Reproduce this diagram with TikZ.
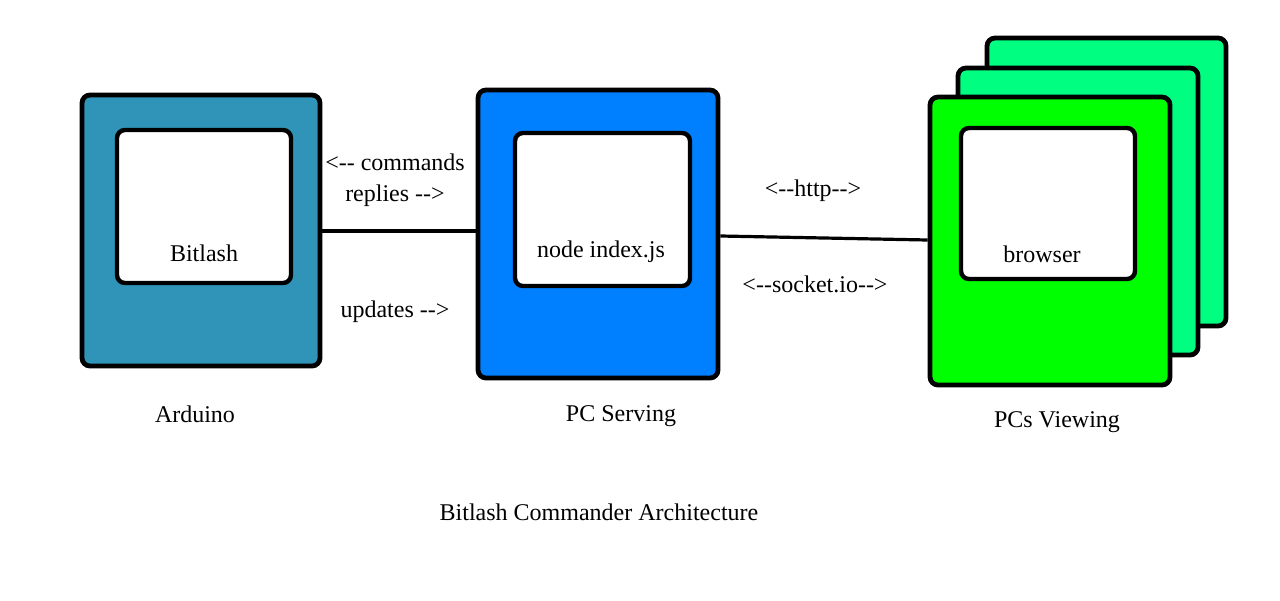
\documentclass[tikz,border=0pt]{standalone}
\usepackage{fontspec}
\setmainfont{Liberation Serif}
\usepackage{tikz}
\usetikzlibrary{positioning}

\definecolor{arduinoteal}{RGB}{47,148,184}
\definecolor{serverblue}{RGB}{0,128,255}
\definecolor{viewgreen}{RGB}{0,255,0}
\definecolor{backgreen}{RGB}{0,255,128}

\tikzset{
  outerbox/.style={rectangle, draw, line width=2.4pt, rounded corners=4pt, inner sep=0pt},
  screenbox/.style={rectangle, draw, fill=white, line width=2.2pt, rounded corners=4pt, inner sep=0pt},
  txt/.style={inner sep=1pt, font=\fontsize{12}{14}\selectfont},
  wire/.style={line width=2pt}
}

\begin{document}
\begin{tikzpicture}[x=0.5pt, y=-0.5pt]
\useasboundingbox (0,0) rectangle (1280,600);
\node[outerbox, fill=arduinoteal, minimum width=119pt, minimum height=135.5pt] (A) at (201,230.5) {};
\node[screenbox, minimum width=87pt, minimum height=76.5pt] (As) at (204,206.5) {};
\node[txt] (At) at (204,253) {Bitlash};
\node[outerbox, fill=serverblue, minimum width=120pt, minimum height=144pt] (P) at (598,234) {};
\node[screenbox, minimum width=87.5pt, minimum height=76.5pt] (Ps) at (602.5,209.5) {};
\node[txt] (Pt) at (601,252) {node index.js};
\node[outerbox, fill=backgreen, minimum width=119.5pt, minimum height=144pt] (B3) at (1106.5,182) {};
\node[outerbox, fill=backgreen, minimum width=120pt, minimum height=143.5pt] (B2) at (1078,211.5) {};
\node[outerbox, fill=viewgreen, minimum width=120pt, minimum height=144pt] (B1) at (1050,241) {};
\node[screenbox, minimum width=87pt, minimum height=75.5pt] (Bs) at (1048,203.5) {};
\node[txt] (Bt) at (1042,254) {browser};
\node[txt] (c) at (395,162) {<-{}- commands};
\node[txt] (r) at (395,196) {replies -{}->};
\node[txt] (u) at (395,312) {updates -{}->};
\node[txt] (h) at (813,191) {<-{}-http-{}->};
\node[txt] (s) at (815,284) {<-{}-socket.io-{}->};
\node[txt] (An) at (195,414) {Arduino};
\node[txt] (Pn) at (621,416) {PC Serving};
\node[txt] (Bn) at (1057,422) {PCs Viewing};
\node[txt] (T) at (599,512) {Bitlash Commander Architecture};
\draw[wire] (A.east) -- (A.east -| P.west);
\draw[wire, line width=1.6pt] ([yshift=-1pt]P.east) -- ([yshift=0.5pt]B1.west);
\end{tikzpicture}
\end{document}
